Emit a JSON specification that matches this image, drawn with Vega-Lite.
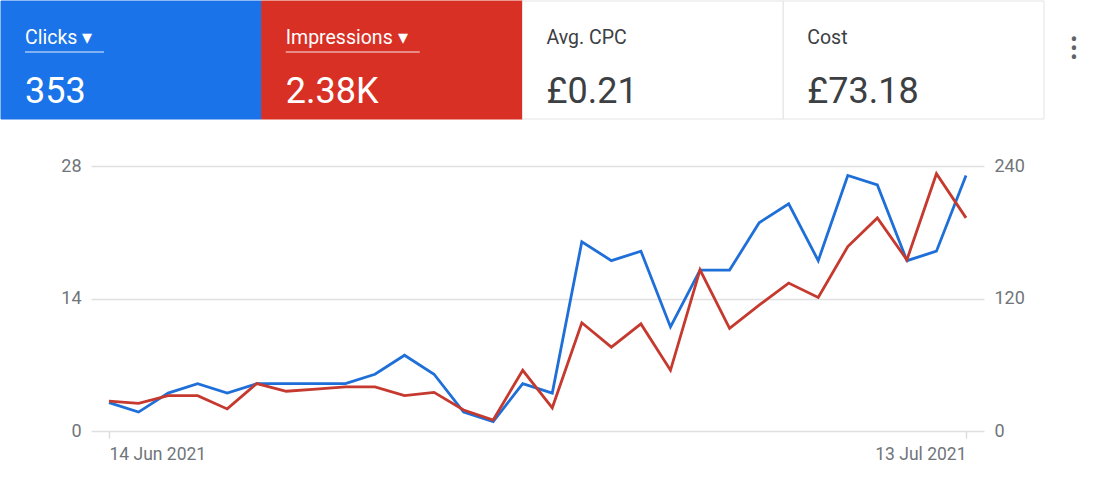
{
  "$schema": "https://vega.github.io/schema/vega-lite/v6.json",
  "description": "Google Ads style summary: metric tiles over a dual axis clicks / impressions line chart.",
  "padding": 0,
  "background": "#ffffff",
  "bounds": "flush",
  "spacing": 47,
  "config": {
    "view": {"stroke": null},
    "font": "Roboto"
  },
  "datasets": {
    "tiles": [
      {"metric": "Clicks", "label": "Clicks ▾", "value": "353"},
      {"metric": "Impressions", "label": "Impressions ▾", "value": "2.38K"},
      {"metric": "Avg. CPC", "label": "Avg. CPC", "value": "£0.21"},
      {"metric": "Cost", "label": "Cost", "value": "£73.18"}
    ],
    "daily": [
      {"date": "2021-06-14", "clicks": 3, "impressions": 27},
      {"date": "2021-06-15", "clicks": 2, "impressions": 25},
      {"date": "2021-06-16", "clicks": 4, "impressions": 32},
      {"date": "2021-06-17", "clicks": 5, "impressions": 32},
      {"date": "2021-06-18", "clicks": 4, "impressions": 20},
      {"date": "2021-06-19", "clicks": 5, "impressions": 43},
      {"date": "2021-06-20", "clicks": 5, "impressions": 36},
      {"date": "2021-06-21", "clicks": 5, "impressions": 38},
      {"date": "2021-06-22", "clicks": 5, "impressions": 40},
      {"date": "2021-06-23", "clicks": 6, "impressions": 40},
      {"date": "2021-06-24", "clicks": 8, "impressions": 32},
      {"date": "2021-06-25", "clicks": 6, "impressions": 35},
      {"date": "2021-06-26", "clicks": 2, "impressions": 19},
      {"date": "2021-06-27", "clicks": 1, "impressions": 10},
      {"date": "2021-06-28", "clicks": 5, "impressions": 55},
      {"date": "2021-06-29", "clicks": 4, "impressions": 21},
      {"date": "2021-06-30", "clicks": 20, "impressions": 98},
      {"date": "2021-07-01", "clicks": 18, "impressions": 76},
      {"date": "2021-07-02", "clicks": 19, "impressions": 97},
      {"date": "2021-07-03", "clicks": 11, "impressions": 55},
      {"date": "2021-07-04", "clicks": 17, "impressions": 146},
      {"date": "2021-07-05", "clicks": 17, "impressions": 93},
      {"date": "2021-07-06", "clicks": 22, "impressions": 114},
      {"date": "2021-07-07", "clicks": 24, "impressions": 134},
      {"date": "2021-07-08", "clicks": 18, "impressions": 121},
      {"date": "2021-07-09", "clicks": 27, "impressions": 167},
      {"date": "2021-07-10", "clicks": 26, "impressions": 193},
      {"date": "2021-07-11", "clicks": 18, "impressions": 155},
      {"date": "2021-07-12", "clicks": 19, "impressions": 233},
      {"date": "2021-07-13", "clicks": 27, "impressions": 193}
    ]
  },
  "vconcat": [
    {
      "width": 1104,
      "height": 118,
      "data": {"name": "tiles"},
      "encoding": {
        "x": {
          "field": "metric",
          "type": "nominal",
          "bandPosition": 0,
          "axis": null,
          "scale": {
            "domain": ["Clicks", "Impressions", "Avg. CPC", "Cost"],
            "range": [0, 1043],
            "paddingInner": 0,
            "paddingOuter": 0
          }
        }
      },
      "layer": [
        {
          "mark": {"type": "rect", "strokeWidth": 1},
          "encoding": {
            "x": {"field": "metric", "type": "nominal", "axis": null},
            "fill": {
              "field": "metric",
              "type": "nominal",
              "legend": null,
              "scale": {
                "domain": ["Clicks", "Impressions", "Avg. CPC", "Cost"],
                "range": ["#1a73e8", "#d93025", "#ffffff", "#ffffff"]
              }
            },
            "stroke": {
              "field": "metric",
              "type": "nominal",
              "legend": null,
              "scale": {
                "domain": ["Clicks", "Impressions", "Avg. CPC", "Cost"],
                "range": ["#1a73e8", "#d93025", "#e3e3e3", "#e3e3e3"]
              }
            }
          }
        },
        {
          "mark": {"type": "text", "align": "left", "baseline": "alphabetic", "xOffset": 24, "dy": -16, "fontSize": 19.5},
          "encoding": {
            "text": {"field": "label"},
            "color": {
              "field": "metric",
              "type": "nominal",
              "legend": null,
              "scale": {
                "domain": ["Clicks", "Impressions", "Avg. CPC", "Cost"],
                "range": ["#ffffff", "#ffffff", "#3c4043", "#3c4043"]
              }
            }
          }
        },
        {
          "mark": {"type": "text", "align": "left", "baseline": "alphabetic", "xOffset": 24, "dy": 43, "fontSize": 36},
          "encoding": {
            "text": {"field": "value"},
            "color": {"field": "metric", "type": "nominal", "legend": null}
          }
        },
        {
          "transform": [{"filter": "datum.metric == 'Clicks' || datum.metric == 'Impressions'"}],
          "mark": {
            "type": "rule",
            "color": "#ffffff",
            "opacity": 0.6,
            "strokeWidth": 1.5,
            "xOffset": 24,
            "yOffset": -8,
            "x2Offset": {"expr": "datum.metric == 'Clicks' ? 103 : 158"}
          },
          "encoding": {
            "x2": {"field": "metric", "bandPosition": 0}
          }
        },
        {
          "data": {"values": [{"metric": "Cost", "icon": ["•", "•", "•"]}]},
          "mark": {"type": "text", "align": "center", "baseline": "middle", "fontSize": 22, "lineHeight": 9, "xOffset": 30, "dy": -20, "color": "#5f6368"},
          "encoding": {
            "x": {"field": "metric", "type": "nominal", "bandPosition": 1, "axis": null},
            "text": {"field": "icon"}
          }
        }
      ]
    },
    {
      "width": 1104,
      "height": 265,
      "data": {"name": "daily"},
      "encoding": {
        "x": {
          "field": "date",
          "type": "temporal",
          "title": null,
          "scale": {"type": "utc", "range": [90, 983], "padding": 18, "nice": false},
          "axis": {
            "values": [
              {"year": 2021, "month": 6, "date": 14, "utc": true},
              {"year": 2021, "month": 7, "date": 13, "utc": true}
            ],
            "format": "%-d %b %Y",
            "domain": false,
            "grid": false,
            "ticks": true,
            "tickSize": 7,
            "tickColor": "#dadce0",
            "tickWidth": 1.5,
            "labelPadding": 7,
            "labelFontSize": 17.5,
            "labelColor": "#70757a",
            "labelAlign": {"condition": {"test": "datum.index == 0", "value": "left"}, "value": "right"}
          }
        }
      },
      "layer": [
        {
          "mark": {"type": "line", "color": "#1f6fd8", "strokeWidth": 2.8},
          "encoding": {
            "y": {
              "field": "clicks",
              "type": "quantitative",
              "title": null,
              "scale": {"domain": [0, 28], "nice": false},
              "axis": {
                "orient": "left",
                "offset": -90,
                "values": [0, 14, 28],
                "domain": false,
                "ticks": false,
                "grid": true,
                "gridColor": "#e0e0e0",
                "gridWidth": 1.6,
                "labelPadding": 10,
                "labelFontSize": 18,
                "labelColor": "#70757a"
              }
            }
          }
        },
        {
          "mark": {"type": "line", "color": "#c5392f", "strokeWidth": 2.8},
          "encoding": {
            "y": {
              "field": "impressions",
              "type": "quantitative",
              "title": null,
              "scale": {"domain": [0, 240], "nice": false},
              "axis": {
                "orient": "right",
                "offset": -121,
                "values": [0, 120, 240],
                "domain": false,
                "ticks": false,
                "grid": false,
                "labelPadding": 10,
                "labelFontSize": 18,
                "labelColor": "#70757a"
              }
            }
          }
        }
      ],
      "resolve": {"scale": {"y": "independent"}}
    }
  ]
}
